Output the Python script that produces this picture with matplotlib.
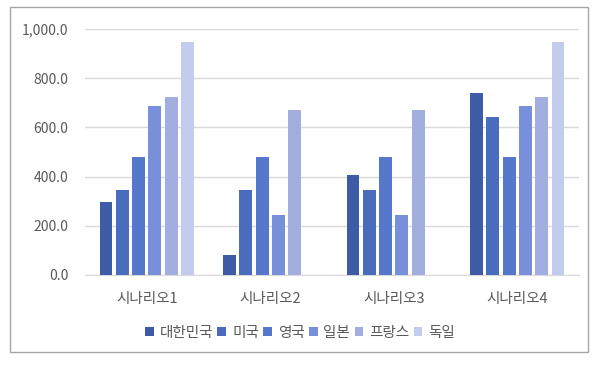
import matplotlib
matplotlib.use("Agg")
import matplotlib.pyplot as plt
import numpy as np
from matplotlib.patches import Rectangle

plt.rcParams['font.family'] = ['Noto Sans CJK KR', 'DejaVu Sans']

scenarios = ['시나리오1', '시나리오2', '시나리오3', '시나리오4']
countries = ['대한민국', '미국', '영국', '일본', '프랑스', '독일']
korea = [295, 80, 405, 740]
usa = [345, 345, 345, 643]
uk = [480, 480, 480, 480]
japan = [685, 245, 245, 685]
france = [723, 672, 672, 723]
germany = [948, np.nan, np.nan, 948]
series = [korea, usa, uk, japan, france, germany]
colors = ['#3e5ba6', '#4a6cbd', '#5578cc', '#7890d9', '#a2aee0', '#c4cced']

fig = plt.figure(figsize=(6, 3.68), dpi=100)
ax = fig.add_axes([85 / 600, (368 - 275) / 368, (579 - 85) / 600, (275 - 29) / 368])

x = np.arange(len(scenarios))
pitch = 0.132
width = 0.105
for i, (vals, c, name) in enumerate(zip(series, colors, countries)):
    ax.bar(x + (i - 2.5) * pitch, vals, width, color=c, label=name, zorder=3)

ax.set_xlim(-0.5, 3.5)
ax.set_ylim(0, 1000)
ax.set_yticks(np.arange(0, 1001, 200))
ax.set_yticklabels([f'{v:,.1f}' for v in np.arange(0, 1001, 200)])
ax.set_xticks(x)
ax.set_xticklabels(scenarios)
ax.tick_params(axis='both', length=0, colors='#595959')
ax.tick_params(axis='y', pad=12, labelsize=10)
ax.tick_params(axis='x', pad=12, labelsize=10.5)
ax.grid(axis='y', color='#d9d9d9', linewidth=1, zorder=0)
for s in ['top', 'right', 'left']:
    ax.spines[s].set_visible(False)
ax.spines['bottom'].set_color('#d9d9d9')

ax.legend(loc='center', bbox_to_anchor=(0.5, (368 - 333) / 368), bbox_transform=fig.transFigure,
          ncol=6, frameon=False, fontsize=10.5, handlelength=0.6, handleheight=0.6,
          handletextpad=0.4, columnspacing=0.3, labelcolor='#595959')

fig.patches.append(Rectangle((10 / 600, (368 - 352) / 368), 578 / 600, 345 / 368,
                             transform=fig.transFigure, fill=False, edgecolor='#a6a6a6', linewidth=1))

fig.savefig('out.png', dpi=100, facecolor='white')
